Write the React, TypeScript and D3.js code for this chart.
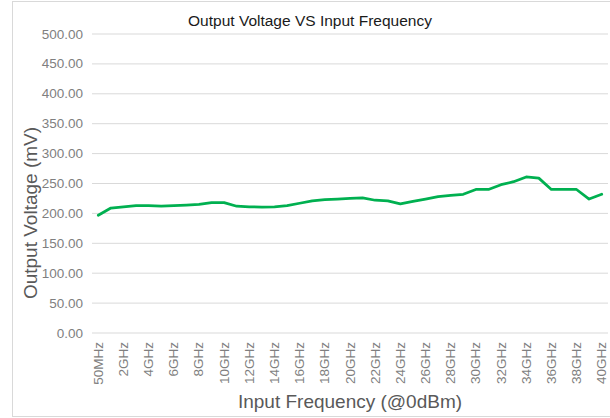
import * as d3 from 'd3';
import React from 'react';

const categories = [
  '50MHz', '1GHz', '2GHz', '3GHz', '4GHz', '5GHz', '6GHz', '7GHz', '8GHz', '9GHz',
  '10GHz', '11GHz', '12GHz', '13GHz', '14GHz', '15GHz', '16GHz', '17GHz', '18GHz', '19GHz',
  '20GHz', '21GHz', '22GHz', '23GHz', '24GHz', '25GHz', '26GHz', '27GHz', '28GHz', '29GHz',
  '30GHz', '31GHz', '32GHz', '33GHz', '34GHz', '35GHz', '36GHz', '37GHz', '38GHz', '39GHz',
  '40GHz',
];

const voltages = [
  197, 209, 211, 213, 213, 212, 213, 214, 215, 218,
  218, 212, 211, 210.5, 211, 213, 217, 221, 223, 224,
  225, 226, 222, 221, 216, 220, 224, 228, 230, 232,
  240, 240, 248, 253, 261, 259, 240, 240, 240, 224,
  232,
];

const yTicks = [0, 50, 100, 150, 200, 250, 300, 350, 400, 450, 500];

const W = 610;
const H = 418;
const margin = { left: 92, right: 2, top: 34, bottom: 85 };
const font = "'Liberation Sans', Arial, sans-serif";

export default function App() {
  const x = d3
    .scaleBand()
    .domain(categories)
    .range([margin.left, W - margin.right]);
  const y = d3
    .scaleLinear()
    .domain([0, 500])
    .range([H - margin.bottom, margin.top]);

  const line = d3
    .line<number>()
    .x((_, i) => (x(categories[i]) as number) + x.bandwidth() / 2)
    .y((d) => y(d));

  // only every other category gets a label, like the original
  const shown = categories.filter((_, i) => i % 2 === 0);

  return (
    <svg
      width={W}
      height={H}
      style={{ position: 'absolute', left: 0, top: 0, background: '#fff' }}
    >
      <rect x={12.5} y={1.5} width={W} height={415} fill="none" stroke="#d9d9d9" />
      <text
        x={310}
        y={26}
        textAnchor="middle"
        fontFamily={font}
        fontSize={15.5}
        fill="#1a1a1a"
      >
        Output Voltage VS Input Frequency
      </text>
      {yTicks.map((t) => (
        <g key={t}>
          <line
            x1={margin.left}
            x2={W - margin.right}
            y1={y(t)}
            y2={y(t)}
            stroke="#d9d9d9"
            strokeWidth={1}
          />
          <text
            x={83}
            y={y(t) + 4.5}
            textAnchor="end"
            fontFamily={font}
            fontSize={13.5}
            fill="#7f7f7f"
          >
            {t.toFixed(2)}
          </text>
        </g>
      ))}
      {shown.map((c) => {
        const cx = (x(c) as number) + x.bandwidth() / 2;
        return (
          <text
            key={c}
            transform={`translate(${cx + 4.5},${342}) rotate(-90)`}
            textAnchor="end"
            fontFamily={font}
            fontSize={13.5}
            fill="#7f7f7f"
          >
            {c}
          </text>
        );
      })}
      <path
        d={line(voltages) ?? ''}
        fill="none"
        stroke="#00b050"
        strokeWidth={2.75}
        strokeLinejoin="round"
        strokeLinecap="round"
      />
      <text
        transform={`translate(${37},${213}) rotate(-90)`}
        textAnchor="middle"
        fontFamily={font}
        fontSize={19}
        fill="#595959"
      >
        Output Voltage (mV)
      </text>
      <text
        x={350}
        y={408}
        textAnchor="middle"
        fontFamily={font}
        fontSize={19}
        fill="#595959"
      >
        Input Frequency (@0dBm)
      </text>
    </svg>
  );
}
